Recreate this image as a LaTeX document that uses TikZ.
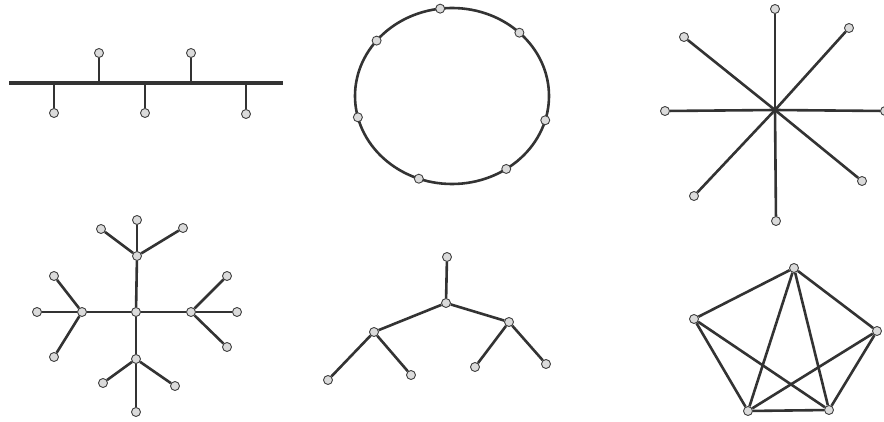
\documentclass[tikz,border=0pt]{standalone}
\tikzset{
  dot/.style={circle,draw=black!75,fill=black!14,line width=0.9pt,inner sep=0pt,minimum size=9pt},
  link/.style={draw=black!80,line width=2.6pt},
}
\begin{document}
\begin{tikzpicture}[x=1pt,y=-1pt]
    \useasboundingbox (0,0) rectangle (884,422);
    % bus
    \begin{scope}
      \coordinate (busL) at (9,83);
      \coordinate (busR) at (283,83);
      \draw[link,line width=4pt] (busL)--(busR);
      \foreach \name/\x/\y in {b1/54/113,b2/99/53,b3/145/113,b4/191/53,b5/246/114}{
        \node[dot] (\name) at (\x,\y) {};
        \coordinate (\name t) at (\x,83);
        \draw[link] (\name)--(\name t);
      }
    \end{scope}
    % ring
    \begin{scope}[shift={(452,96)}]
      \coordinate (ringc) at (0,0);
      \draw[link] (ringc) ellipse [x radius=97,y radius=88];
      \foreach \name/\a in {r1/263,r2/314,r3/219,r4/166,r5/16,r6/56,r7/110}
        \node[dot] (\name) at (\a:97 and 88) {};
    \end{scope}
    % star
    \begin{scope}[shift={(775,110)}]
      \coordinate (hub) at (0,0);
      \foreach \name/\x/\y in {s1/0/-101,s2/74/-82,s3/-91/-73,s4/-110/1,
                               s5/110/1,s6/87/71,s7/-81/86,s8/1/111}{
        \node[dot] (\name) at (\x,\y) {};
        \draw[link] (hub)--(\name);
      }
    \end{scope}
    % tree
    \node[dot] (t0) at (136,312) {};
    \node[dot] (tn) at (137,256) {};
    \node[dot] (tw) at (82,312) {};
    \node[dot] (te) at (191,312) {};
    \node[dot] (ts) at (136,359) {};
    \foreach \hub in {tn,tw,te,ts}
      \draw[link] (t0)--(\hub);
    \foreach \name/\hub/\x/\y in {tn1/tn/101/229,tn2/tn/137/220,tn3/tn/183/228,
                                 tw1/tw/54/276,tw2/tw/37/312,tw3/tw/54/357,
                                 te1/te/227/276,te2/te/237/312,te3/te/227/347,
                                 ts1/ts/103/383,ts2/ts/136/412,ts3/ts/175/386}{
      \node[dot] (\name) at (\x,\y) {};
      \draw[link] (\hub)--(\name);
    }
    % hierarchy
    \node[dot] (h0) at (447,257) {};
    \node[dot] (h1) at (446,303) {};
    \node[dot] (h2) at (374,332) {};
    \node[dot] (h3) at (509,322) {};
    \node[dot] (h4) at (328,380) {};
    \node[dot] (h5) at (411,375) {};
    \node[dot] (h6) at (475,367) {};
    \node[dot] (h7) at (546,364) {};
    \foreach \a/\b in {h0/h1,h1/h2,h1/h3,h2/h4,h2/h5,h3/h6,h3/h7}
      \draw[link] (\a)--(\b);
    % mesh
    \node[dot] (m1) at (794,268) {};
    \node[dot] (m2) at (694,319) {};
    \node[dot] (m3) at (877,331) {};
    \node[dot] (m4) at (748,411) {};
    \node[dot] (m5) at (829,410) {};
    \foreach \a/\b in {m1/m2,m1/m3,m1/m4,m1/m5,m2/m4,m2/m5,m3/m4,m3/m5,m4/m5}
      \draw[link] (\a)--(\b);
\end{tikzpicture}
\end{document}
